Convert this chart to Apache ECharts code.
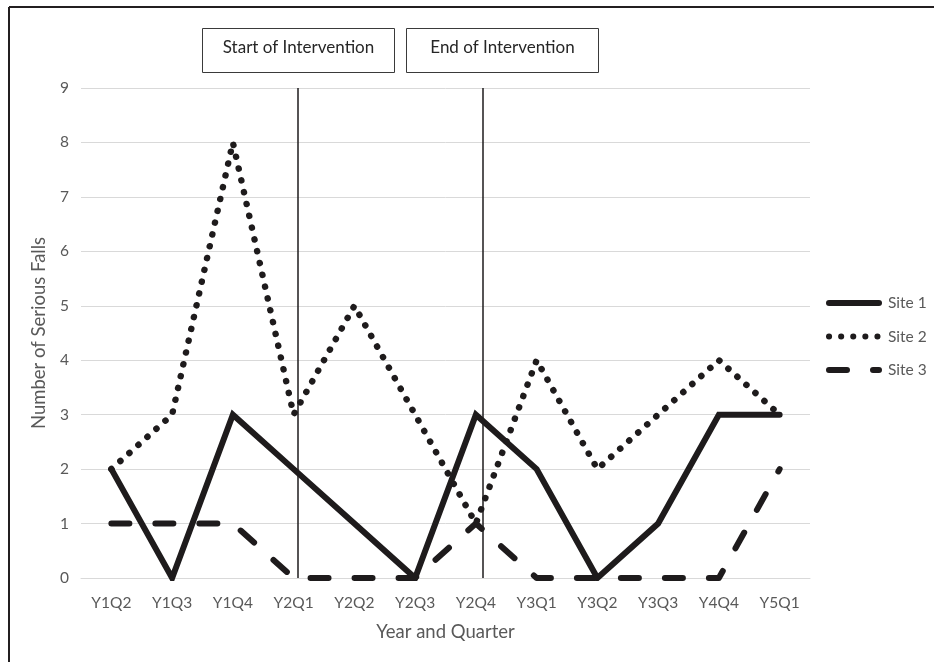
<!DOCTYPE html>
<html>
<head>
<meta charset="utf-8">
<script src="https://cdn.jsdelivr.net/npm/echarts@6/dist/echarts.min.js"></script>
<style>
html,body{margin:0;padding:0;background:#fff;}
#chart{width:934px;height:662px;}
</style>
</head>
<body>
<div id="chart"></div>
<script>
const categories = ['Y1Q2','Y1Q3','Y1Q4','Y2Q1','Y2Q2','Y2Q3','Y2Q4','Y3Q1','Y3Q2','Y3Q3','Y4Q4','Y5Q1'];
const site1 = [2,0,3,2,1,0,3,2,0,1,3,3];
const site2 = [2,3,8,3,5,3,1,4,2,3,4,3];
const site3 = [1,1,1,0,0,0,1,0,0,0,0,2];
const interventionMarks = [3.07, 6.12];
const interventionLabels = ['Start of Intervention', 'End of Intervention'];

const FONT = 'Lato';
const INK = '#1e1b1c';
const GRAY = '#595959';

const chart = echarts.init(document.getElementById('chart'), null, {renderer:'canvas'});

function box(x, label) {
  return {
    type: 'group', left: x, top: 28,
    children: [
      {type:'rect', shape:{x:0,y:0,width:192,height:44}, style:{fill:'#fff', stroke:'#3a3a3a', lineWidth:1}},
      {type:'text', x:96, y:19, style:{text:label, fill:'#262626', font:'17px ' + FONT, textAlign:'center', textVerticalAlign:'middle'}}
    ]
  };
}

chart.setOption({
  animation: false,
  backgroundColor: '#fff',
  textStyle: {fontFamily: FONT},
  grid: {left: 81, right: 124, top: 88, bottom: 84, containLabel: false},
  legend: {
    orient: 'vertical', left: 826, top: 295, padding: 0,
    itemWidth: 50, itemHeight: 14, itemGap: 17.5,
    data: ['Site 1','Site 2','Site 3'],
    itemStyle: {opacity: 0, borderWidth: 0},
    lineStyle: {width: 6},
    textStyle: {color: GRAY, fontSize: 15.5, fontFamily: FONT, padding: [0, 0, 0, 4]}
  },
  xAxis: [{
    type: 'category', data: categories, boundaryGap: true,
    axisLine: {show: true, lineStyle: {color: '#d9d9d9', width: 1}},
    axisTick: {show: false},
    axisLabel: {color: GRAY, fontSize: 15.5, margin: 17, fontFamily: FONT},
    name: 'Year and Quarter', nameLocation: 'middle', nameGap: 45,
    nameTextStyle: {color: GRAY, fontSize: 18.5, fontFamily: FONT}
  }, {
    type: 'value', min: -0.5, max: 11.5, show: false
  }],
  yAxis: {
    type: 'value', min: 0, max: 9, interval: 1,
    axisLine: {show: false}, axisTick: {show: false},
    splitLine: {lineStyle: {color: '#d9d9d9', width: 1}},
    axisLabel: {color: GRAY, fontSize: 15.5, margin: 12, fontFamily: FONT},
    name: 'Number of Serious Falls', nameLocation: 'middle', nameGap: 32, nameRotate: 90,
    nameTextStyle: {color: GRAY, fontSize: 18.5, fontFamily: FONT}
  },
  series: [
    {name:'Site 1', type:'line', data: site1, symbol:'none', z:5,
     lineStyle:{color: INK, width: 6, type:'solid', cap:'round', join:'miter'}, itemStyle:{color: INK}},
    {name:'Site 2', type:'line', data: site2, symbol:'none', z:4,
     lineStyle:{color: INK, width: 6.5, type:[0.1, 12], cap:'round', join:'round'}, itemStyle:{color: INK}},
    {name:'Site 3', type:'line', data: site3, symbol:'none', z:3,
     lineStyle:{color: INK, width: 6, type:[18, 26], cap:'round', join:'round'}, itemStyle:{color: INK}},
    {name:'marks', type:'line', xAxisIndex: 1, data: [], symbol:'none', silent: true,
     markLine: {
       silent: true, symbol: ['none','none'], label: {show: false},
       lineStyle: {color: INK, width: 1.5, type: 'solid'},
       data: interventionMarks.map(v => ({xAxis: v}))
     }}
  ],
  graphic: [
    {type:'line', shape:{x1:9, y1:7, x2:934, y2:7}, style:{stroke:'#231f20', lineWidth:2}},
    {type:'line', shape:{x1:9, y1:7, x2:9, y2:662}, style:{stroke:'#231f20', lineWidth:2}},
    box(202, interventionLabels[0]),
    box(406, interventionLabels[1])
  ]
});
</script>
</body>
</html>
